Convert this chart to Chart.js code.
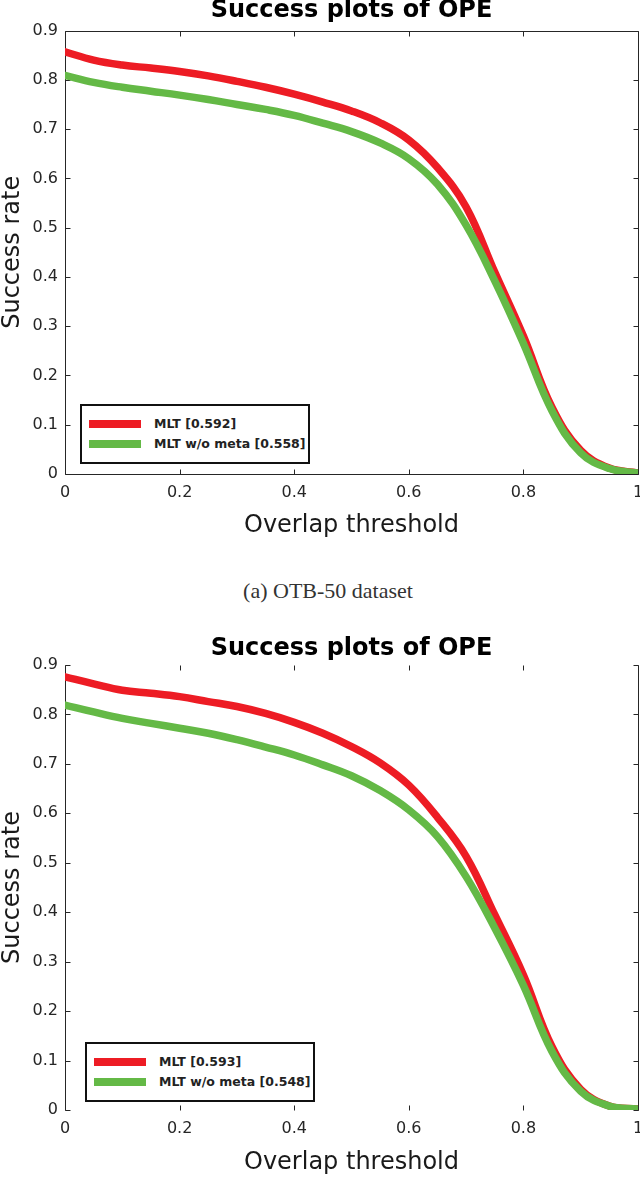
<!DOCTYPE html>
<html>
<head>
<meta charset="utf-8">
<title>Success plots of OPE</title>
<script src="https://cdn.jsdelivr.net/npm/chart.js@4.4.1/dist/chart.umd.min.js"></script>
<style>
  html, body { margin: 0; padding: 0; background: #fff; overflow: hidden; }
  body { position: relative; width: 640px; height: 1179px; }
  .plot { position: absolute; left: 0; width: 660px; }
  .legend { position: absolute; box-sizing: border-box; width: 230px; height: 60px; border: 2px solid #111; background: #fff;
            font: bold 12.5px "DejaVu Sans", sans-serif; color: #222; }
  .legend .sw { position: absolute; left: 7px; width: 52px; height: 8px; }
  .legend .txt { position: absolute; left: 72px; line-height: 16px; white-space: nowrap; }
  .caption { position: absolute; left: 0; width: 656px; top: 579px; text-align: center;
             font: 22px "Liberation Serif", "Times New Roman", serif; color: #333; line-height: 24px; }
</style>
</head>
<body>

<div class="plot" id="wrapA" style="top:0;height:545px"><canvas id="chartA"></canvas></div>
<div class="caption">(a) OTB-50 dataset</div>
<div class="plot" id="wrapB" style="top:635px;height:544px"><canvas id="chartB"></canvas></div>

<script>
// overlap thresholds (x) and tick labels
const thresholds = [0, 0.05, 0.1, 0.15, 0.2, 0.25, 0.3, 0.35, 0.4, 0.45, 0.5,
                    0.55, 0.6, 0.65, 0.7, 0.75, 0.8, 0.85, 0.9, 0.95, 1];
const xTickVals = [0, 0.2, 0.4, 0.6, 0.8, 1];
const xTickLabels = ['0', '0.2', '0.4', '0.6', '0.8', '1'];
const yTickVals = [0, 0.1, 0.2, 0.3, 0.4, 0.5, 0.6, 0.7, 0.8, 0.9];
const yTickLabels = ['0', '0.1', '0.2', '0.3', '0.4', '0.5', '0.6', '0.7', '0.8', '0.9'];

// (a) OTB-50
const otb50Mlt    = [0.857, 0.840, 0.830, 0.824, 0.817, 0.808, 0.797, 0.785, 0.771, 0.755, 0.737,
                     0.713, 0.678, 0.622, 0.542, 0.410, 0.280, 0.135, 0.048, 0.012, 0.002];
const otb50NoMeta = [0.809, 0.795, 0.785, 0.777, 0.769, 0.760, 0.750, 0.740, 0.728, 0.712, 0.695,
                     0.672, 0.640, 0.588, 0.505, 0.392, 0.265, 0.128, 0.043, 0.011, 0.002];
const otb50Names  = ['MLT [0.592]', 'MLT w/o meta [0.558]'];

// second plot
const plotBMlt    = [0.876, 0.862, 0.849, 0.843, 0.836, 0.826, 0.816, 0.802, 0.784, 0.762, 0.735,
                     0.702, 0.657, 0.592, 0.513, 0.395, 0.273, 0.128, 0.042, 0.008, 0.002];
const plotBNoMeta = [0.819, 0.805, 0.792, 0.782, 0.772, 0.762, 0.749, 0.734, 0.718, 0.698, 0.676,
                     0.646, 0.607, 0.553, 0.472, 0.368, 0.252, 0.118, 0.038, 0.008, 0.002];
const plotBNames  = ['MLT [0.593]', 'MLT w/o meta [0.548]'];

const seriesColors = ['#ed1c24', '#64b946'];
const axisColor = '#262626';
const FONT = '"DejaVu Sans", sans-serif';

// matlab style box with inward ticks
const axesBox = {
    id: 'axesBox',
    beforeDatasetsDraw(chart, args, opts) {
        const {ctx, chartArea: a, scales: {x, y}} = chart;
        const px = v => Math.round(v) + 0.5;
        const L = px(a.left), R = px(a.right), T = px(a.top), B = px(a.bottom);
        ctx.save();
        ctx.strokeStyle = axisColor;
        ctx.lineWidth = 1;
        ctx.beginPath();
        const sides = opts.sides || 'tblr';
        if (sides.includes('l')) { ctx.moveTo(L, T); ctx.lineTo(L, B); }
        if (sides.includes('r')) { ctx.moveTo(R, T); ctx.lineTo(R, B); }
        if (sides.includes('t')) { ctx.moveTo(L, T); ctx.lineTo(R, T); }
        if (sides.includes('b')) { ctx.moveTo(L, B); ctx.lineTo(R, B); }
        x.ticks.forEach(t => {
            const xp = px(x.getPixelForValue(t.value));
            ctx.moveTo(xp, B); ctx.lineTo(xp, B - 5);
            ctx.moveTo(xp, T); ctx.lineTo(xp, T + 5);
        });
        y.ticks.forEach(t => {
            const yp = px(y.getPixelForValue(t.value));
            ctx.moveTo(L, yp); ctx.lineTo(L + 5, yp);
            ctx.moveTo(R, yp); ctx.lineTo(R - 5, yp);
        });
        ctx.stroke();
        ctx.restore();
    }
};

function makePlot(cfg) {
    const canvas = document.getElementById(cfg.canvas);
    const chart = new Chart(canvas, {
        type: 'line',
        data: {
            datasets: [
                { label: cfg.names[0], data: thresholds.map((t, i) => ({x: t, y: cfg.mlt[i]})),
                  borderColor: seriesColors[0], order: 1 },
                { label: cfg.names[1], data: thresholds.map((t, i) => ({x: t, y: cfg.noMeta[i]})),
                  borderColor: seriesColors[1], order: 0 }
            ]
        },
        options: {
            responsive: true,
            maintainAspectRatio: false,
            animation: false,
            layout: { padding: { left: 0, right: 22, top: 0, bottom: 0 } },
            elements: {
                line: { borderWidth: 7.5, tension: 0.4, borderCapStyle: 'round' },
                point: { radius: 0 }
            },
            scales: {
                x: {
                    type: 'linear', min: 0, max: 1,
                    grid: { display: false, drawTicks: false }, border: { display: false },
                    afterBuildTicks: s => { s.ticks = xTickVals.map(v => ({value: v})); },
                    ticks: { color: axisColor, font: { family: FONT, size: 16 }, padding: 9, maxRotation: 0, autoSkip: false,
                             callback: (v, i) => xTickLabels[i] },
                    title: { display: true, text: 'Overlap threshold', color: '#1a1a1a',
                             font: { family: FONT, size: 24, lineHeight: 1.2 }, padding: { top: 0, bottom: cfg.xTitlePad } },
                    afterFit: s => { s.height = cfg.xHeight; }
                },
                y: {
                    type: 'linear', min: 0, max: 0.9,
                    grid: { display: false, drawTicks: false }, border: { display: false },
                    afterBuildTicks: s => { s.ticks = yTickVals.map(v => ({value: v})); },
                    ticks: { color: axisColor, font: { family: FONT, size: 16 }, padding: 7, autoSkip: false,
                             callback: (v, i) => yTickLabels[i] },
                    title: { display: true, text: 'Success rate', color: '#1a1a1a',
                             font: { family: FONT, size: 24, lineHeight: 1.05 }, padding: 0 },
                    afterFit: s => { s.width = 65; }
                }
            },
            plugins: {
                title: { display: true, fullSize: false, text: 'Success plots of OPE', color: '#000',
                         font: { family: FONT, size: 24, weight: 'bold', lineHeight: 0.9 },
                         padding: { top: cfg.titleTop, bottom: cfg.titleBottom } },
                legend: { display: false },
                tooltip: { enabled: false },
                axesBox: { sides: cfg.sides }
            }
        },
        plugins: [axesBox]
    });

    // legend box sits inside the axes, lower left
    const a = chart.chartArea;
    const box = document.createElement('div');
    box.className = 'legend';
    box.style.left = (a.left + cfg.legendDx) + 'px';
    box.style.top = (a.bottom - cfg.legendDy) + 'px';
    cfg.names.forEach((name, i) => {
        const sw = document.createElement('div');
        sw.className = 'sw';
        sw.style.top = (14 + i * 20) + 'px';
        sw.style.background = seriesColors[i];
        const txt = document.createElement('div');
        txt.className = 'txt';
        txt.style.top = (10 + i * 20) + 'px';
        txt.textContent = name;
        box.appendChild(sw);
        box.appendChild(txt);
    });
    document.getElementById(cfg.wrap).appendChild(box);
    return chart;
}

makePlot({ canvas: 'chartA', wrap: 'wrapA', mlt: otb50Mlt, noMeta: otb50NoMeta, names: otb50Names,
           xHeight: 71, xTitlePad: 5, titleTop: 0, titleBottom: 9, sides: 'tblr', legendDx: 15, legendDy: 70 });
makePlot({ canvas: 'chartB', wrap: 'wrapB', mlt: plotBMlt, noMeta: plotBNoMeta, names: plotBNames,
           xHeight: 69, xTitlePad: 2, titleTop: 3, titleBottom: 5.4, sides: 'lr', legendDx: 20, legendDy: 68 });
</script>
</body>
</html>
